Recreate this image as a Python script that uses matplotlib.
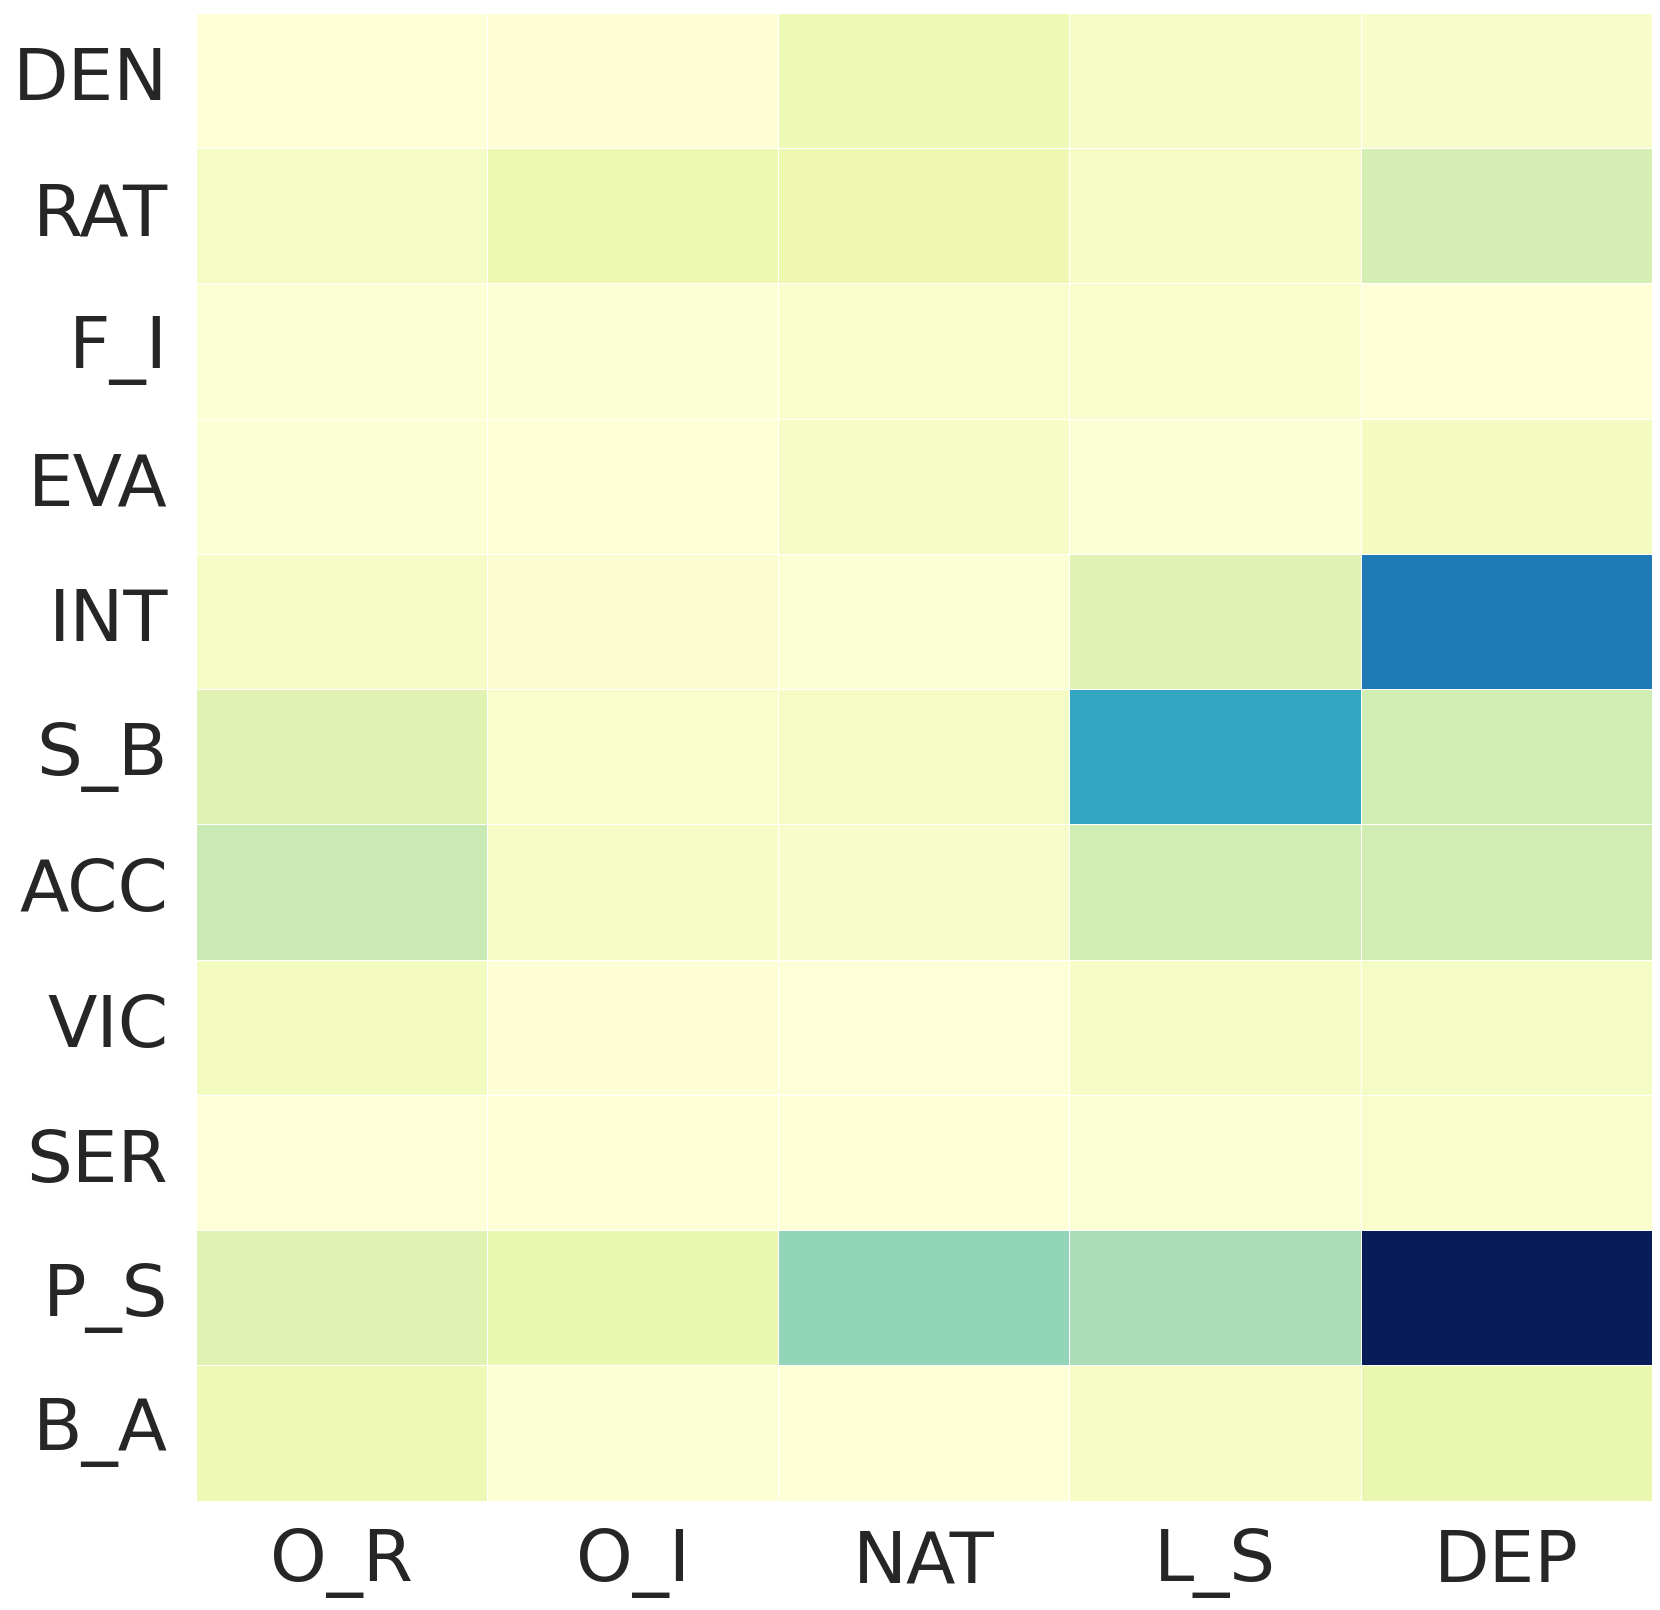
import numpy as np
import pandas as pd
import matplotlib
matplotlib.use("Agg")
import matplotlib.pyplot as plt
import seaborn as sns

rows = ["DEN", "RAT", "F_I", "EVA", "INT", "S_B", "ACC", "VIC", "SER", "P_S", "B_A"]
cols = ["O_R", "O_I", "NAT", "L_S", "DEP"]

vals = [
    [0.010, 0.015, 0.110, 0.060, 0.050],
    [0.070, 0.125, 0.120, 0.060, 0.210],
    [0.020, 0.020, 0.040, 0.040, 0.010],
    [0.020, 0.010, 0.060, 0.020, 0.080],
    [0.060, 0.030, 0.020, 0.170, 0.680],
    [0.165, 0.040, 0.070, 0.550, 0.220],
    [0.245, 0.060, 0.050, 0.220, 0.215],
    [0.080, 0.015, 0.005, 0.060, 0.070],
    [0.005, 0.010, 0.010, 0.020, 0.040],
    [0.170, 0.140, 0.340, 0.300, 1.000],
    [0.110, 0.020, 0.010, 0.060, 0.140],
]

df = pd.DataFrame(vals, index=rows, columns=cols)

sns.set_theme(style="white")
fig = plt.figure(figsize=(16.6, 16.1), dpi=100)
ax = fig.add_axes([0.118, 0.068, 0.877, 0.924])
sns.heatmap(df, cmap="YlGnBu", vmin=0, vmax=1, linewidths=0.5, linecolor="white",
            cbar=False, ax=ax)

ax.tick_params(axis="both", length=0, labelsize=52, colors="#262626", pad=20)
plt.setp(ax.get_yticklabels(), rotation=0)
plt.setp(ax.get_xticklabels(), rotation=0)

fig.savefig("out.png", dpi=100)
